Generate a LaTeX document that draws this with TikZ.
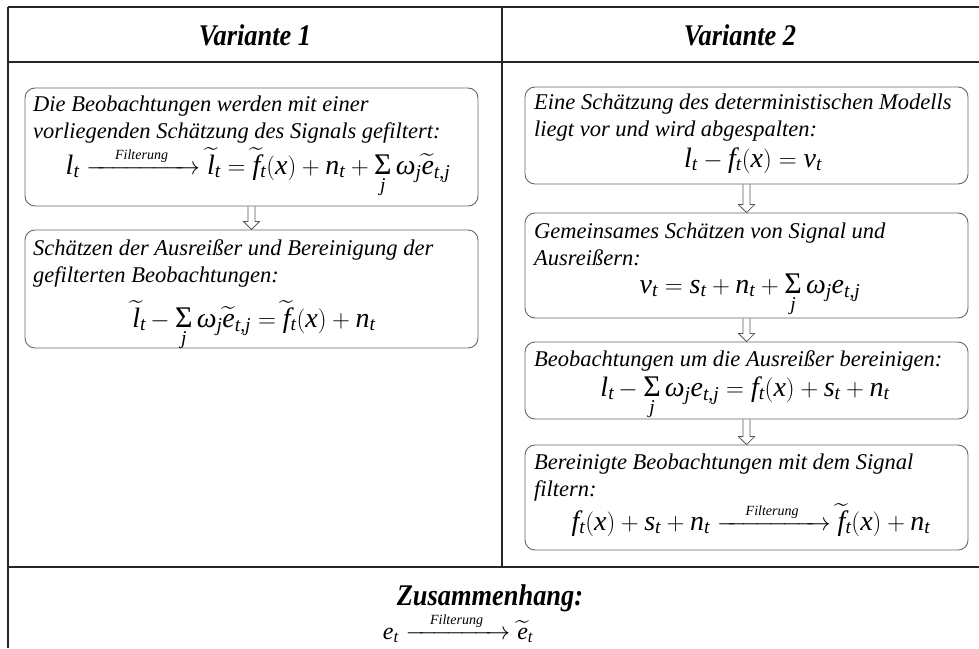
\documentclass[tikz,border=0pt]{standalone}
\usepackage{amsmath}
\usepackage{fontspec}
\setmainfont{Liberation Serif}
\DeclareSymbolFont{tlet}{TU}{\rmdefault}{m}{it}
\DeclareSymbolFont{tup}{TU}{\rmdefault}{m}{n}
\DeclareMathSymbol{l}{\mathalpha}{tlet}{`l}
\DeclareMathSymbol{t}{\mathalpha}{tlet}{`t}
\DeclareMathSymbol{f}{\mathalpha}{tlet}{`f}
\DeclareMathSymbol{x}{\mathalpha}{tlet}{`x}
\DeclareMathSymbol{n}{\mathalpha}{tlet}{`n}
\DeclareMathSymbol{j}{\mathalpha}{tlet}{`j}
\DeclareMathSymbol{e}{\mathalpha}{tlet}{`e}
\DeclareMathSymbol{s}{\mathalpha}{tlet}{`s}
\DeclareMathSymbol{v}{\mathalpha}{tlet}{`v}
\DeclareMathSymbol{(}{\mathopen}{tup}{`(}
\DeclareMathSymbol{)}{\mathclose}{tup}{`)}
\DeclareMathSymbol{+}{\mathbin}{tup}{`+}
\DeclareMathSymbol{=}{\mathrel}{tup}{`=}
\DeclareMathSymbol{,}{\mathpunct}{tup}{`,}
\usepackage{graphicx}
\usetikzlibrary{calc}
\tikzset{
  tbl/.style={draw=black!85, line width=1.5pt},
  box/.style={draw=black!60, line width=0.9pt, rounded corners=10pt, inner sep=0pt},
  txt/.style={inner sep=0pt, font=\fontsize{22.5}{27}\selectfont\itshape},
  fml/.style={inner sep=0pt, font=\fontsize{28}{32}\selectfont},
  hdr/.style={inner sep=0pt, font=\fontsize{30}{30}\selectfont\bfseries\itshape},
  arr/.style={draw=black!65, line width=0.8pt, line join=miter},
}
\newcommand{\hollowdown}[2]{%
  \draw[arr] ($(#1.south)+(-3.5,0)$) -- ($(#2.north)+(-3.5,-8)$) -- ($(#2.north)+(-8,-8)$)
    -- (#2.north) -- ($(#2.north)+(8,-8)$) -- ($(#2.north)+(3.5,-8)$) -- ($(#1.south)+(3.5,0)$);}
\newcommand{\filt}[1]{\xrightarrow{\hspace{#1}\mbox{\fontsize{14}{14}\selectfont\itshape Filterung}\hspace{#1}}}
\newcommand{\bigS}{\hbox{\fontsize{30}{30}\selectfont\char"03A3}}
\newcommand{\smsum}{\mathop{\bigS}\limits_{j}}
\newcommand{\om}{\mathord{\mbox{\itshape ω}}}
\newcommand{\mn}{\mkern3mu{-}\mkern1mu}
\begin{document}
\begin{tikzpicture}[x=1pt,y=-1pt]
\useasboundingbox[fill=white] (0,0) rectangle (979,648);
% table
\draw[tbl] (8,7) -- (979,7);
\draw[tbl] (8,7) -- (8,648);
\draw[tbl] (8,62) -- (979,62);
\draw[tbl] (502,7) -- (502,567);
\draw[tbl] (8,567) -- (979,567);
% headers
\node[hdr, anchor=base] (H1) at (255,45) {\scalebox{0.88}[1]{Variante 1}};
\node[hdr, anchor=base] (H2) at (740,45) {\scalebox{0.88}[1]{Variante 2}};
% left column
\node[box, minimum width=453pt, minimum height=118pt] (L1) at (251.5,147) {};
\node[txt, anchor=base west] (L1a) at (33,111) {Die Beobachtungen werden mit einer};
\node[txt, anchor=base west] (L1b) at (33,138) {vorliegenden Schätzung des Signals gefiltert:};
\node[fml, anchor=base] (L1f) at (258,174) {$l_t \filt{0.8em} \widetilde{l}_t = \widetilde{f}_t(x) + n_t + \smsum \om_j \widetilde{e}_{t,j}$};
\node[box, minimum width=453pt, minimum height=118pt] (L2) at (251.5,289) {};
\node[txt, anchor=base west] (L2a) at (33,255) {Schätzen der Ausreißer und Bereinigung der};
\node[txt, anchor=base west] (L2b) at (33,282) {gefilterten Beobachtungen:};
\node[fml, anchor=base] (L2f) at (254,327) {$\widetilde{l}_t \mn \smsum \om_j \widetilde{e}_{t,j} = \widetilde{f}_t(x) + n_t$};
\hollowdown{L1}{L2}
% right column
\node[box, minimum width=443pt, minimum height=97pt] (R1) at (746.5,135.5) {};
\node[txt, anchor=base west] (R1a) at (534,109) {Eine Schätzung des deterministischen Modells};
\node[txt, anchor=base west] (R1b) at (534,136) {liegt vor und wird abgespalten:};
\node[fml, anchor=base] (R1f) at (753,167) {$l_t - f_t(x) = v_t$};
\node[box, minimum width=443pt, minimum height=105pt] (R2) at (746.5,265.5) {};
\node[txt, anchor=base west] (R2a) at (534,238) {Gemeinsames Schätzen von Signal und};
\node[txt, anchor=base west] (R2b) at (534,265) {Ausreißern:};
\node[fml, anchor=base] (R2f) at (750,293) {$v_t = s_t + n_t + \smsum \om_j e_{t,j}$};
\node[box, minimum width=443pt, minimum height=77pt] (R3) at (746.5,380.5) {};
\node[txt, anchor=base west] (R3a) at (534,366) {Beobachtungen um die Ausreißer bereinigen:};
\node[fml, anchor=base] (R3f) at (745,396) {$l_t \mn \smsum \om_j e_{t,j} = f_t(x) + s_t + n_t$};
\node[box, minimum width=443pt, minimum height=105pt] (R4) at (746.5,497.5) {};
\node[txt, anchor=base west] (R4a) at (534,469) {Bereinigte Beobachtungen mit dem Signal};
\node[txt, anchor=base west] (R4b) at (534,496) {filtern:};
\node[fml, anchor=base] (R4f) at (751,530) {$f_t(x) + s_t + n_t \filt{0.8em} \widetilde{f}_t(x) + n_t$};
\hollowdown{R1}{R2}
\hollowdown{R2}{R3}
\hollowdown{R3}{R4}
% bottom
\node[hdr, anchor=base] (Z) at (490,605) {\scalebox{0.88}[1]{Zusammenhang:}};
\node[inner sep=0pt, font=\fontsize{24}{26}\selectfont, anchor=base] (Zf) at (458,639) {$e_t \filt{0.8em} \widetilde{e}_t$};
\end{tikzpicture}
\end{document}
